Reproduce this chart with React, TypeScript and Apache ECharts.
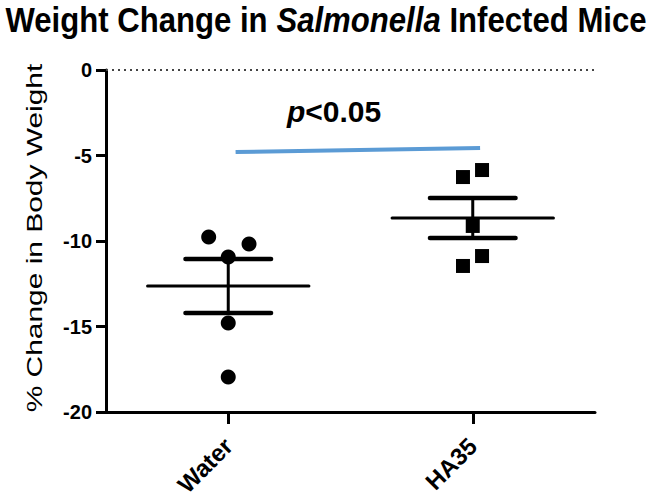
import React, { useEffect, useRef } from "react";
import * as echarts from "echarts";

const categories = ["Water", "HA35"];
const waterValues = [-9.77, -10.18, -10.93, -14.8, -17.95];
const waterOffsets = [-0.08, 0.085, 0, 0, 0];
const ha35Values = [-6.26, -5.85, -9.12, -10.88, -11.46];
const ha35Offsets = [-0.04, 0.038, 0, 0.038, -0.04];
const groupMeans = [-12.63, -8.65];
const groupSems = [1.58, 1.17];
const sigLine = [
  [0.03, -4.8],
  [1.03, -4.56],
];
const yMin = -20;
const yMax = 0;
const yInterval = 5;
const titleParts = ["Weight Change in ", "Salmonella", " Infected Mice"];
const yAxisTitle = "% Change in Body Weight";
const sigText = ["p", "<0.05"];

const FONT = "'Liberation Sans', Arial, sans-serif";

export default function App() {
  const ref = useRef<HTMLDivElement>(null);
  useEffect(() => {
    if (!ref.current) return;
    const chart = echarts.init(ref.current, undefined, { renderer: "svg" });
    const waterData = waterValues.map((v, i) => [0 + waterOffsets[i], v]);
    const ha35Data = ha35Values.map((v, i) => [1 + ha35Offsets[i], v]);
    const errData = groupMeans.map((m, i) => [i, m, groupSems[i]]);
    chart.setOption({
      animation: false,
      backgroundColor: "#fff",
      grid: { left: 106, right: 57, top: 70, bottom: 90, containLabel: false },
      xAxis: [
        {
          type: "category",
          data: categories,
          boundaryGap: true,
          axisLine: { show: true, onZero: false, lineStyle: { color: "#000", width: 3 } },
          axisTick: { show: true, inside: false, alignWithLabel: true, length: 12, lineStyle: { color: "#000", width: 3 } },
          axisLabel: { rotate: 45, fontSize: 24, fontWeight: "bold", color: "#000", fontFamily: FONT, margin: 30 },
          splitLine: { show: false },
        },
        { type: "value", min: -0.5, max: 1.5, show: false },
      ],
      yAxis: {
        type: "value",
        min: yMin,
        max: yMax,
        interval: yInterval,
        axisLine: { show: true, onZero: false, lineStyle: { color: "#000", width: 3 } },
        axisTick: { show: true, inside: false, length: 10, lineStyle: { color: "#000", width: 3 } },
        axisLabel: { fontSize: 20, fontWeight: "bold", color: "#000", fontFamily: FONT, margin: 14 },
        splitLine: { show: false },
      },
      series: [
        {
          type: "line",
          xAxisIndex: 1,
          data: sigLine,
          symbol: "none",
          lineStyle: { color: "#5B9BD5", width: 4 },
          z: 3,
          markLine: {
            silent: true,
            symbol: "none",
            label: { show: false },
            lineStyle: { color: "#444", type: [2, 4], width: 2 },
            data: [{ yAxis: 0 }],
          },
        },
        {
          type: "custom",
          xAxisIndex: 1,
          data: errData,
          z: 4,
          renderItem: (params: any, api: any) => {
            const x = api.value(0);
            const m = api.value(1);
            const s = api.value(2);
            const c = api.coord([x, m]);
            const hi = api.coord([x, m + s]);
            const lo = api.coord([x, m - s]);
            const hw = api.size([0.33, 0])[0];
            const cw = api.size([0.175, 0])[0];
            const style = { stroke: "#000", lineWidth: 3, lineCap: "round" };
            const capStyle = { stroke: "#000", lineWidth: 4.5, lineCap: "round" };
            return {
              type: "group",
              children: [
                { type: "line", shape: { x1: c[0] - hw, y1: c[1], x2: c[0] + hw, y2: c[1] }, style },
                { type: "line", shape: { x1: c[0], y1: hi[1], x2: c[0], y2: lo[1] }, style },
                { type: "line", shape: { x1: c[0] - cw, y1: hi[1], x2: c[0] + cw, y2: hi[1] }, style: capStyle },
                { type: "line", shape: { x1: c[0] - cw, y1: lo[1], x2: c[0] + cw, y2: lo[1] }, style: capStyle },
              ],
            };
          },
        },
        {
          type: "scatter",
          xAxisIndex: 1,
          data: waterData,
          symbol: "circle",
          symbolSize: 15,
          itemStyle: { color: "#000", opacity: 1 },
          z: 5,
        },
        {
          type: "scatter",
          xAxisIndex: 1,
          data: ha35Data,
          symbol: "rect",
          symbolSize: 14,
          itemStyle: { color: "#000", opacity: 1 },
          z: 5,
        },
      ],
      graphic: [
        {
          type: "text",
          x: 326,
          y: 20,
          scaleX: 0.865,
          style: {
            text: `{a|${titleParts[0]}}{b|${titleParts[1]}}{a|${titleParts[2]}}`,
            textAlign: "center",
            textVerticalAlign: "middle",
            rich: {
              a: { fontFamily: FONT, fontWeight: "bold", fontSize: 36, fill: "#000" },
              b: { fontFamily: FONT, fontWeight: "bold", fontStyle: "italic", fontSize: 36, fill: "#000" },
            },
          },
        },
        {
          type: "text",
          x: 34,
          y: 238,
          rotation: Math.PI / 2,
          scaleX: 1.36,
          style: {
            text: yAxisTitle,
            textAlign: "center",
            textVerticalAlign: "middle",
            fontFamily: FONT,
            fontSize: 22,
            fill: "#000",
          },
        },
        {
          type: "text",
          x: 287,
          y: 111,
          style: {
            text: `{p|${sigText[0]}}{t|${sigText[1]}}`,
            textVerticalAlign: "middle",
            rich: {
              p: { fontFamily: FONT, fontWeight: "bold", fontStyle: "italic", fontSize: 30, fill: "#000" },
              t: { fontFamily: FONT, fontWeight: "bold", fontSize: 30, fill: "#000" },
            },
          },
        },
      ],
    });
    return () => chart.dispose();
  }, []);
  return <div ref={ref} style={{ position: "fixed", left: 0, top: 0, width: 652, height: 502 }} />;
}
